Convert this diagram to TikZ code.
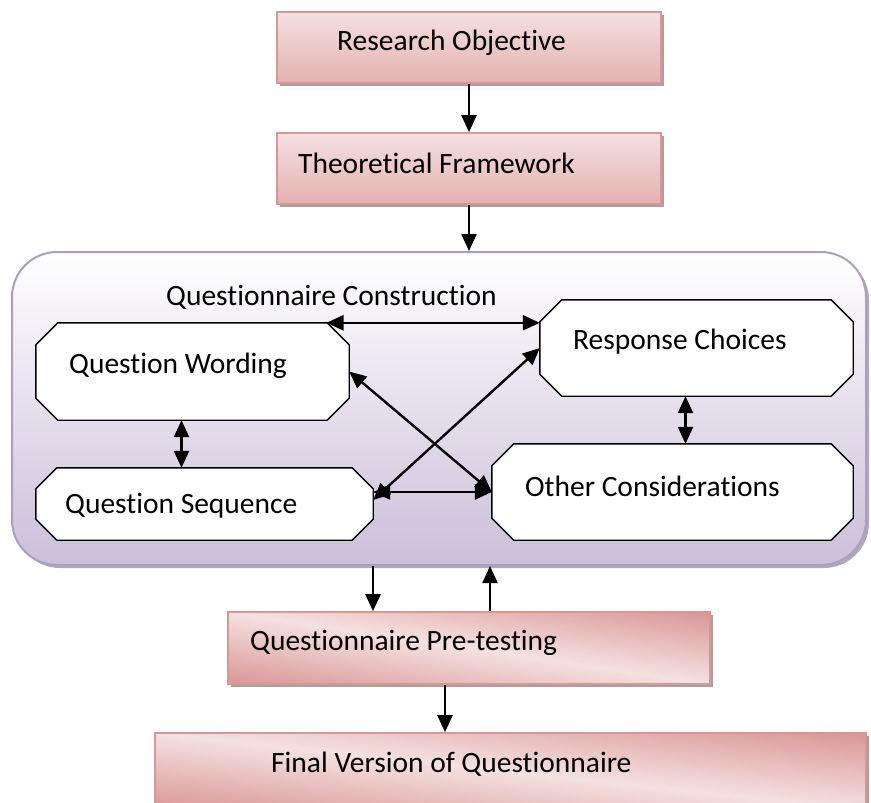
\documentclass[tikz,border=0pt]{standalone}
\usepackage{fontspec}
\setmainfont{Carlito}[Ligatures={NoCommon,NoContextual},RawFeature={-liga;-clig;-dlig}]
\usetikzlibrary{arrows.meta,shadows,calc}
\definecolor{pinkB}{HTML}{D99694}
\definecolor{pinkT}{HTML}{F4E1E0}
\definecolor{pinkD}{HTML}{E3B1B0}
\definecolor{pinkX}{HTML}{D99594}
\definecolor{purB}{HTML}{AB9DC8}
\definecolor{purD}{HTML}{CBBFD9}
\definecolor{shad}{HTML}{A8A0A0}
\begin{document}
\begin{tikzpicture}[x=1pt,y=-1pt,
  pinkbox/.style={draw=pinkB,line width=1.6pt,top color=pinkT,bottom color=pinkD,
    drop shadow={shadow xshift=3pt,shadow yshift=-3pt,fill=shad,opacity=1}},
  pinkframe/.style={draw=pinkB,line width=1.6pt,fill=none},
  diagshade/.style={top color=pinkX,bottom color=pinkX,middle color=pinkT},
  anchorbox/.style={draw=none,fill=none,inner sep=0pt},
  octline/.style={draw=black,line width=1.4pt,fill=white},
  lbl/.style={font=\fontsize{29.5}{34}\selectfont,inner sep=0pt,anchor=west},
  arr/.style={line width=2.4pt,-{Triangle[length=17pt,width=15pt]}},
  darr/.style={line width=2.4pt,{Triangle[length=17pt,width=15pt]}-{Triangle[length=17pt,width=15pt]}}
]
\useasboundingbox (0,0) rectangle (871,803);
\newcommand\octagonpath[2]{%
  \path[octline] ($(#1.north west)+(#2,0)$) -- ($(#1.north east)+(-#2,0)$)
    -- ($(#1.north east)+(0,#2)$) -- ($(#1.south east)+(0,-#2)$)
    -- ($(#1.south east)+(-#2,0)$) -- ($(#1.south west)+(#2,0)$)
    -- ($(#1.south west)+(0,-#2)$) -- ($(#1.north west)+(0,#2)$) -- cycle;}

% top boxes
\node[pinkbox,minimum width=384pt,minimum height=71pt] (ro) at (469,47.5) {};
\node[lbl] (rot) at (337,43) {Research Objective};
\node[pinkbox,minimum width=384pt,minimum height=71pt] (tf) at (469,168.5) {};
\node[lbl] (tft) at (298,163) {Theoretical Framework};

% container
\node[draw=purB,line width=2pt,rounded corners=45pt,top color=white,bottom color=purD,
  minimum width=854pt,minimum height=313pt,
  drop shadow={shadow xshift=3pt,shadow yshift=-3pt,fill=shad!90,opacity=1}] (cc) at (439,408.5) {};
\node[lbl] (cct) at (166,297) {Questionnaire Construction};

% octagon nodes
\node[anchorbox,minimum width=313pt,minimum height=97pt] (qw) at (192.5,371.5) {};
\octagonpath{qw}{22}
\node[lbl] (qwt) at (69,366) {Question Wording};
\node[anchorbox,minimum width=337pt,minimum height=72pt] (qs) at (204.5,504) {};
\octagonpath{qs}{21}
\node[lbl] (qst) at (65,506) {Question Sequence};
\node[anchorbox,minimum width=313pt,minimum height=96pt] (rc) at (696.5,348) {};
\octagonpath{rc}{22}
\node[lbl] (rct) at (573,342) {Response Choices};
\node[anchorbox,minimum width=361pt,minimum height=96pt] (oc) at (672.5,492) {};
\octagonpath{oc}{22}
\node[lbl] (oct) at (525,486) {Other Considerations};

% lower boxes (diagonal shading)
\fill[shad] (231,615) rectangle (713,687);
\begin{scope}
  \clip (228,612) rectangle (710,684);
  \shade[diagshade,transform canvas={rotate around={-8.5:(469,648)}}] (139,576) rectangle (799,720);
\end{scope}
\node[pinkframe,minimum width=482pt,minimum height=72pt] (qpt) at (469,648) {};
\node[lbl] (qptt) at (250,643) {Questionnaire Pre-testing};

\fill[shad] (158,736) rectangle (869,813);
\begin{scope}
  \clip (155,733) rectangle (866,810);
  \shade[diagshade,transform canvas={rotate around={-6.2:(510.5,771.5)}}] (100,694) rectangle (920,849);
\end{scope}
\node[pinkframe,minimum width=711pt,minimum height=77pt] (fv) at (510.5,771.5) {};
\node[lbl] (fvt) at (271,764) {Final Version of Questionnaire};

% connectors
\draw[arr] (ro.south) -- (tf.north);
\draw[arr] (tf.south) -- (tf.south |- cc.north);
\coordinate (qwa) at ([xshift=134pt]qw.north);
\draw[darr] (qwa) -- (rc.west |- qwa);
\coordinate (qwb) at ([xshift=-11pt]qw.south);
\draw[darr] (qwb) -- (qwb |- qs.north);
\coordinate (rcb) at ([xshift=-11pt]rc.south);
\draw[darr] (rcb) -- (rcb |- oc.north);
\draw[darr] (qw.east) -- (oc.west);
\draw[darr] ([yshift=4pt]qs.east) -- (rc.west);
\draw[darr] (qs.east |- oc.west) -- (oc.west);
\coordinate (pa) at ([xshift=-96pt]qpt.north);
\draw[arr] (pa |- cc.south) -- (pa);
\coordinate (pb) at ([xshift=21pt]qpt.north);
\draw[arr] (pb) -- (pb |- cc.south);
\coordinate (pc) at ([xshift=-24pt]qpt.south);
\draw[arr] (pc) -- (pc |- fv.north);
\end{tikzpicture}
\end{document}
